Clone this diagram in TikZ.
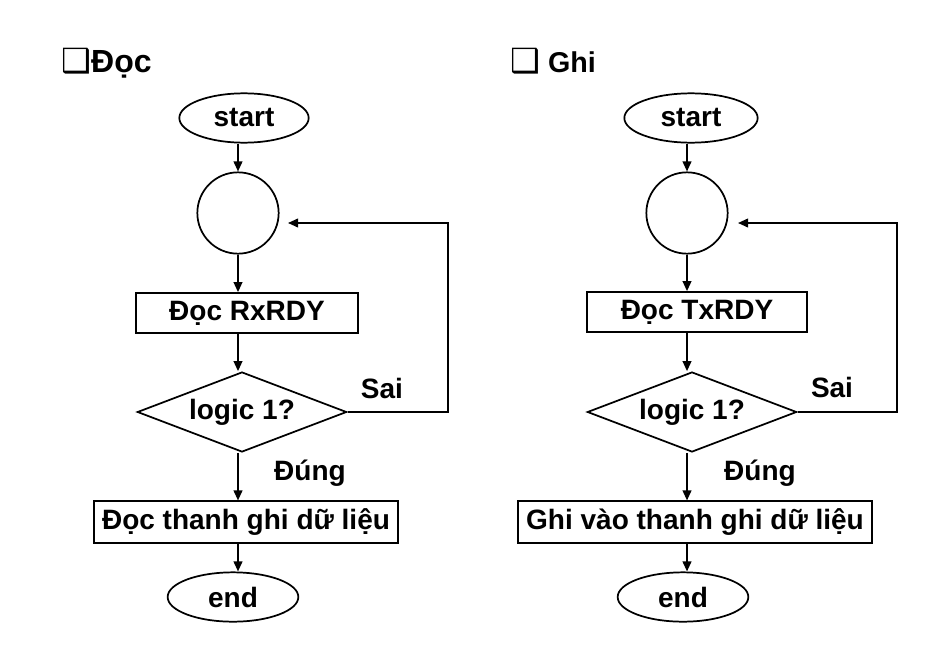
\documentclass[tikz,border=0pt]{standalone}
\usepackage{fontspec}
\setmainfont{Liberation Sans}
\newfontfamily\dingfont{DejaVu Sans}
\usetikzlibrary{shapes.geometric,arrows.meta}
\tikzset{>={Triangle[length=7.5pt,width=6.5pt]},
  flow/.style={draw,line width=1.3pt,font=\fontsize{21}{25}\selectfont\bfseries,inner sep=0pt},
  term/.style={flow,ellipse,minimum width=97pt,minimum height=37pt},
  joint/.style={flow,circle,minimum size=61pt},
  proc/.style={flow,rectangle,minimum height=30pt},
  test/.style={flow,diamond,shape aspect=2.6,minimum width=157pt,minimum height=60pt},
  lbl/.style={font=\fontsize{21}{25}\selectfont\bfseries},
  link/.style={->,line width=1.3pt}}

\begin{document}
\begin{tikzpicture}[x=0.75pt,y=-0.75pt]
\useasboundingbox (0,0) rectangle (944,660);
% doc
\node[anchor=base west,inner sep=0pt,font=\fontsize{24}{28}\selectfont\bfseries] (headA) at (61,72) {{\dingfont\fontsize{25}{28}\selectfont ❑}Đọc};
\node[term] (startA) at (244,118) {start};
\node[joint] (circA) at (238,213) {};
\node[proc,minimum width=166pt] (boxA1) at (247,313) {Đọc RxRDY};
\node[test] (diamA) at (242,412) {logic 1?};
\node[proc,minimum height=31pt,inner xsep=6pt] (boxA2) at (246,522) {Đọc thanh ghi dữ liệu};
\node[term,minimum width=98pt] (endA) at (233,597) {end};
\node[lbl] (saiA) at (382,388) {Sai};
\node[lbl] (dungA) at (310,473) {Đúng};
\coordinate (cornA) at (448,223);
\coordinate (backA) at (288,223);
\draw[link] (startA.south -| circA) -- (circA.north);
\draw[link] (circA.south) -- (circA.south |- boxA1.north);
\draw[link] (boxA1.south -| circA) -- (circA |- diamA.north);
\draw[link] (diamA.south -| circA) -- (circA |- boxA2.north);
\draw[link] (boxA2.south -| circA) -- (circA |- endA.north);
\draw[link] (diamA.east) -| (cornA) -- (backA);
% ghi
\node[anchor=base west,inner sep=0pt,font=\fontsize{21.5}{25}\selectfont\bfseries] (headB) at (510,72) {{\dingfont\fontsize{25}{28}\selectfont ❑} Ghi};
\node[term,minimum width=100pt] (startB) at (691,118) {start};
\node[joint] (circB) at (687,213) {};
\node[proc,minimum width=165pt] (boxB1) at (697,312) {Đọc TxRDY};
\node[test] (diamB) at (692,412) {logic 1?};
\node[proc,minimum height=31pt,inner xsep=6pt] (boxB2) at (695,522) {Ghi vào thanh ghi dữ liệu};
\node[term,minimum width=98pt] (endB) at (683,597) {end};
\node[lbl] (saiB) at (832,387) {Sai};
\node[lbl] (dungB) at (760,473) {Đúng};
\coordinate (cornB) at (897,223);
\coordinate (backB) at (738,223);
\draw[link] (startB.south -| circB) -- (circB.north);
\draw[link] (circB.south) -- (circB.south |- boxB1.north);
\draw[link] (boxB1.south -| circB) -- (circB |- diamB.north);
\draw[link] (diamB.south -| circB) -- (circB |- boxB2.north);
\draw[link] (boxB2.south -| circB) -- (circB |- endB.north);
\draw[link] (diamB.east) -| (cornB) -- (backB);
\end{tikzpicture}
\end{document}
